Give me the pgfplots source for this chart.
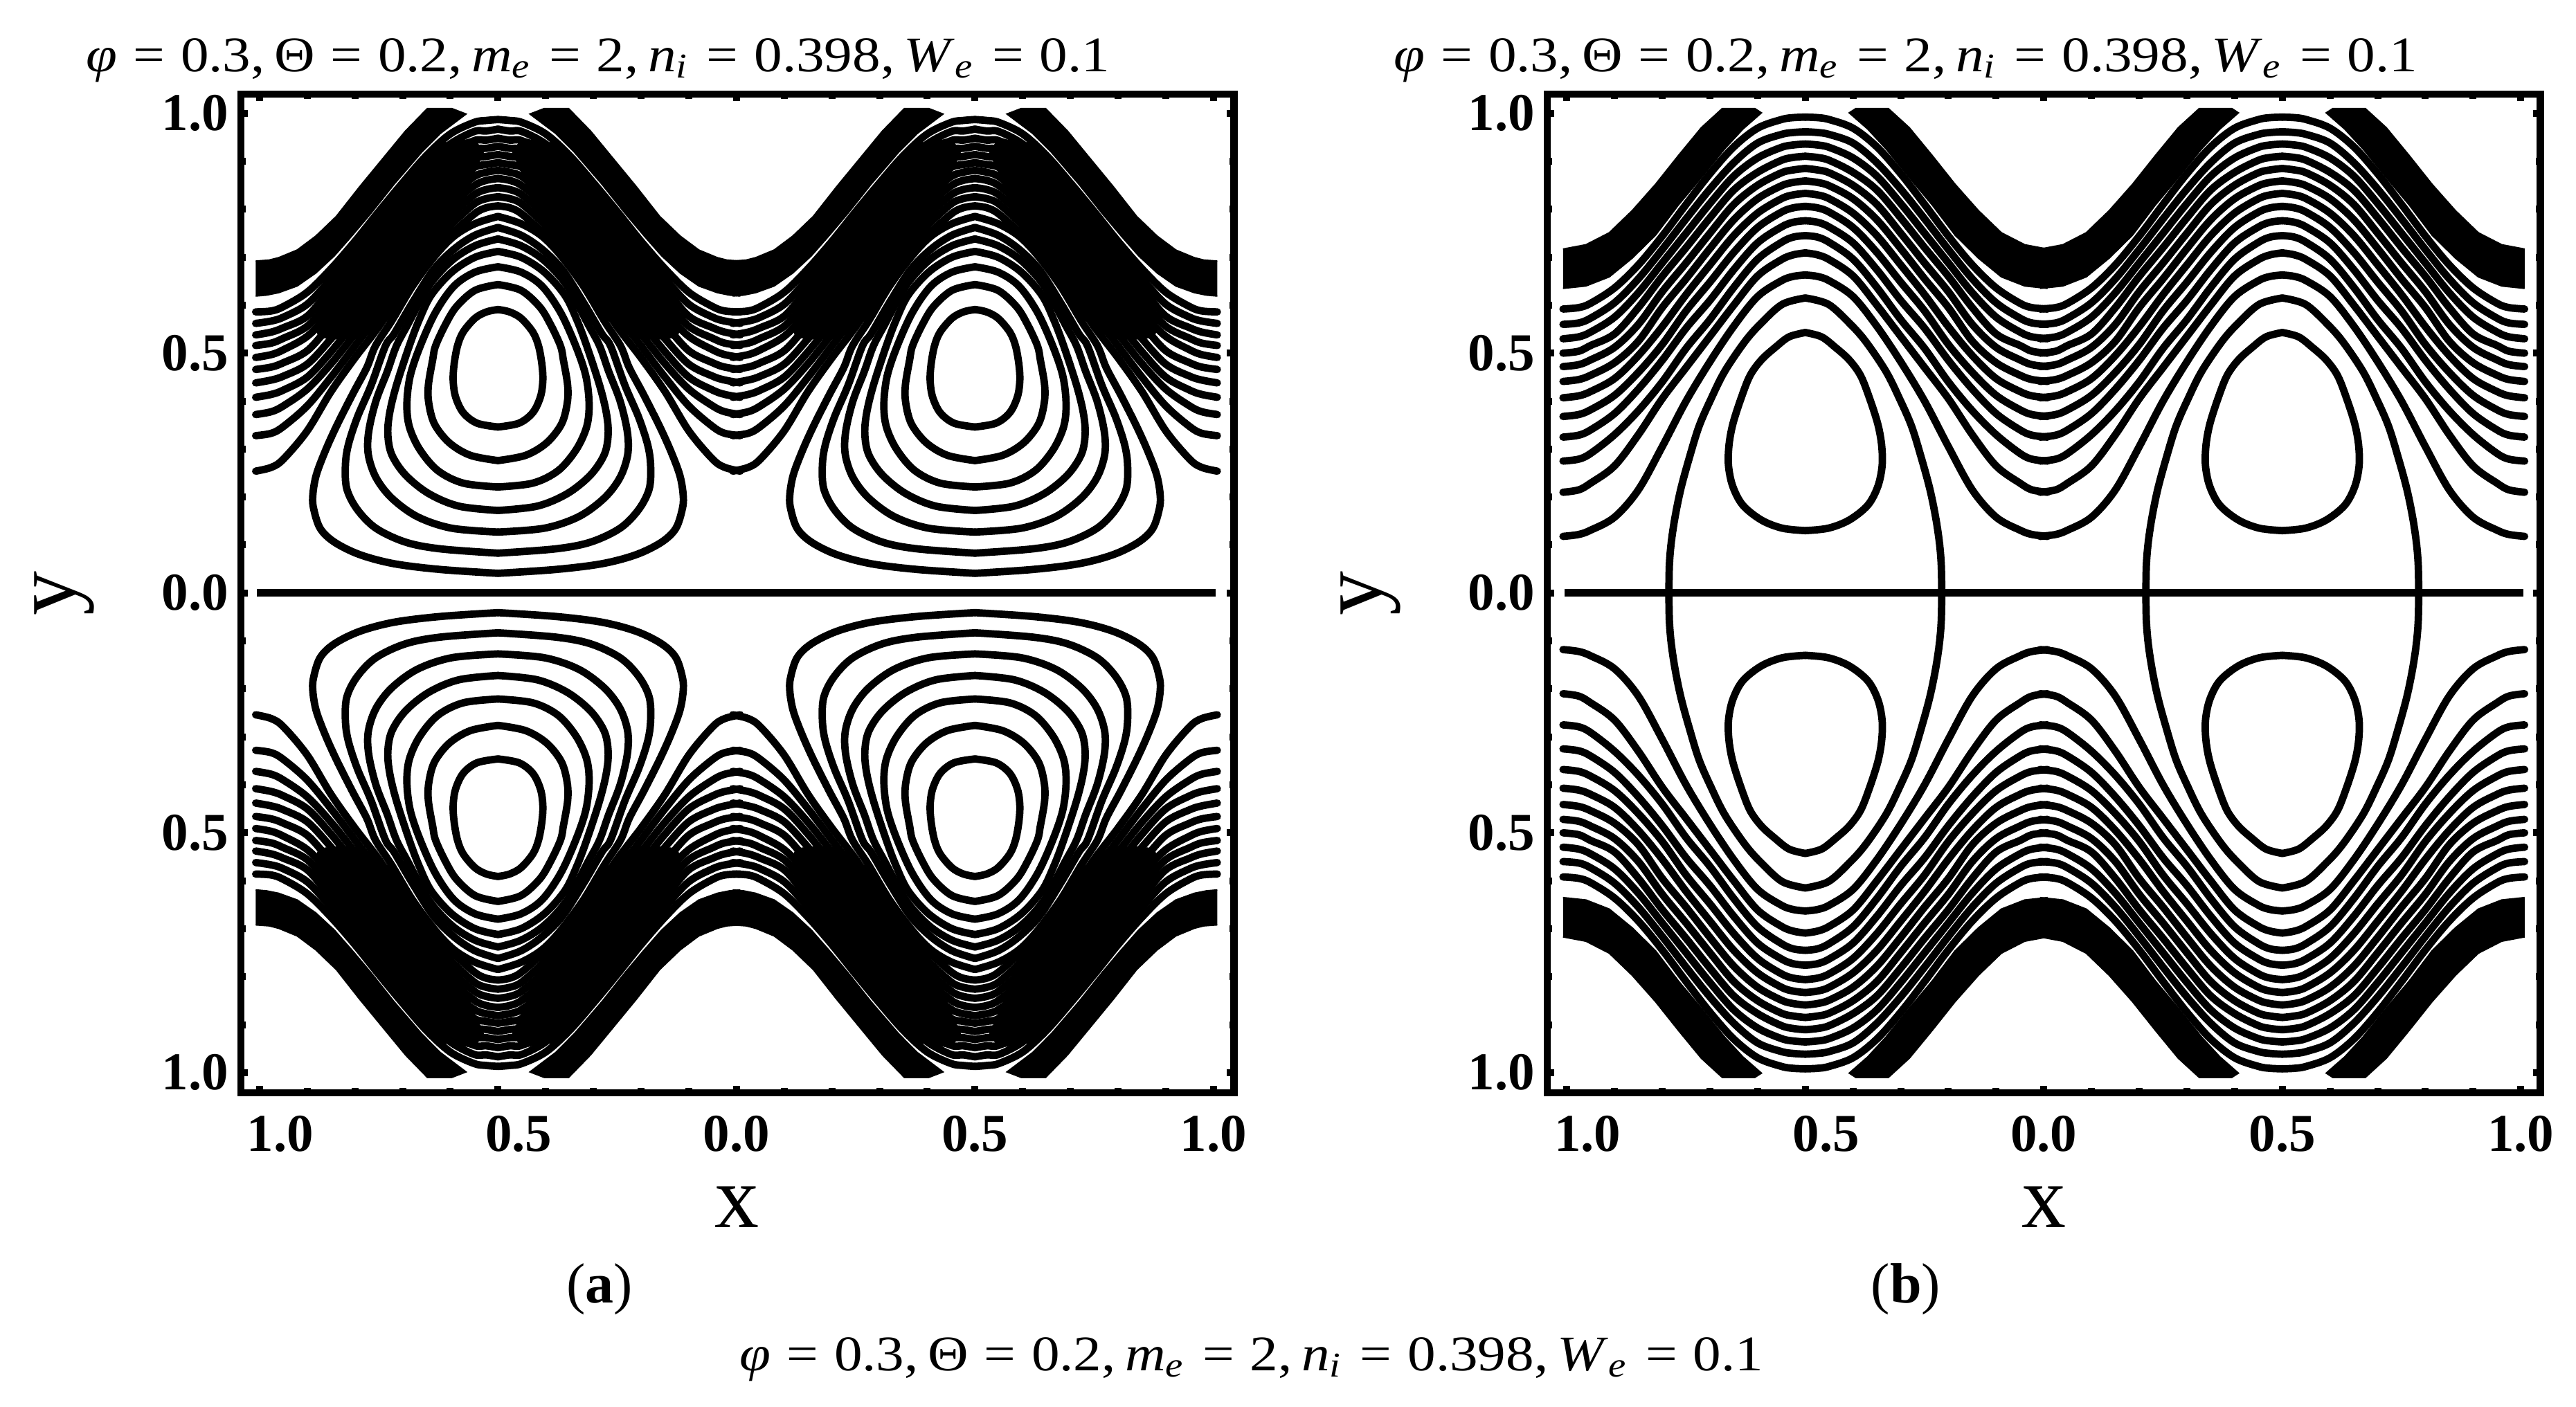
\documentclass[border=0pt]{standalone}
\usepackage{fontspec}
\setmainfont{Liberation Serif}
\usepackage{graphicx}
\usepackage{pgfplots}
\usepackage{pgfplotstable}
\pgfplotsset{compat=1.18}
% ---- panel (a): open contours, half period
\pgfplotstableread{
dx O1 O2 O3 O4 O5 O6 O7 O8 O9 O10 O11
.508 .254 .328 .372 .408 .438 .466 .491 .516 .538 .562 .586
.475 .262 .333 .378 .414 .444 .471 .497 .521 .544 .567 .588
.45 .279 .347 .390 .423 .452 .480 .507 .531 .553 .575 .597
.4 .338 .390 .425 .450 .477 .505 .535 .556 .577 .602 .627
.35 .420 .450 .478 .503 .530 .560 .585 .610 .635 .655 .676
.3 .490 .515 .540 .565 .590 .615 .640 .665 .690 .710 .733
.25 .555 .580 .604 .628 .652 .676 .700 .723 .747 .771 .795
.2 .630 .653 .675 .698 .720 .743 .765 .788 .810 .833 .855
.15 .690 .712 .734 .757 .779 .801 .823 .845 .868 .890 .912
.1 .745 .766 .787 .808 .830 .851 .872 .893 .915 .936 .957
.05 .790 .811 .830 .849 .868 .887 .905 .924 .943 .962 .981
.025 .803 .822 .841 .860 .877 .893 .910 .927 .944 .963 .985
0 .807 .826 .845 .864 .881 .897 .914 .931 .948 .967 .987
}\tAopen
% closed contours of (a)
\pgfplotstableread{
dx y
0 .591
.024 .586
.048 .573
.073 .544
.085 .515
.092 .477
.094 .443
.089 .409
.073 .376
.044 .354
0 .346
}\tCa
\pgfplotstableread{
dx y
0 .643
.048 .631
.087 .597
.11 .56
.131 .515
.137 .486
.146 .433
.145 .395
.133 .352
.102 .313
.058 .287
0 .276
}\tCb
\pgfplotstableread{
dx y
0 .680
.048 .669
.092 .640
.131 .585
.163 .515
.184 .453
.191 .395
.186 .347
.164 .299
.126 .255
.073 .229
0 .221
}\tCc
\pgfplotstableread{
dx y
0 .712
.048 .700
.097 .669
.14 .621
.165 .57
.186 .515
.213 .433
.227 .376
.231 .332
.223 .289
.194 .246
.145 .207
.082 .181
0 .172
}\tCd
\pgfplotstableread{
dx y
0 .738
.048 .724
.097 .693
.145 .64
.189 .56
.213 .515
.232 .462
.256 .400
.271 .337
.272 .289
.256 .241
.223 .198
.169 .159
.097 .135
0 .127
}\tCe
\pgfplotstableread{
dx y
0 .762
.048 .746
.092 .717
.135 .674
.179 .606
.218 .54
.236 .515
.266 .433
.295 .366
.314 .308
.320 .265
.317 .217
.295 .174
.256 .135
.194 .106
.121 .092
0 .083
}\tCf
\pgfplotstableread{
dx y
0 .785
.048 .770
.092 .744
.131 .704
.179 .64
.223 .567
.257 .515
.275 .47
.305 .414
.339 .347
.363 .294
.381 .246
.388 .207
.387 .178
.373 .135
.343 .106
.290 .080
.218 .061
.121 .049
0 .041
}\tCg
% solid band of (a)
\pgfplotstableread{
dx y
.508 .692
.48 .694
.46 .699
.421 .715
.382 .744
.339 .785
.29 .847
.242 .905
.194 .963
.148 1.01
.097 1.01
.067 .9985
.121 .958
.160 .919
.218 .852
.266 .792
.305 .746
.343 .703
.382 .667
.421 .640
.46 .626
.485 .621
.508 .619
}\tAband
% solid part of the packed contours of (a)
\pgfplotstableread{
dx y
.36 .645
.375 .607
.38 .58
.382 .556
.377 .539
.363 .532
.339 .53
.30 .53
.28 .534
.242 .561
.203 .592
.174 .64
.138 .688
.099 .753
.08 .789
.075 .811
.06 .84
.058 .859
.044 .89
.031 .919
.051 .948
.102 .936
.121 .943
.169 .89
.218 .833
.266 .775
.314 .717
.36 .67
}\tAdark
% ---- panel (b)
\pgfplotstableread{
dx P1 P2 P3 P4 P5 P6 P7 P8 P9 P10 P11 P12
.508 .118 .210 .275 .325 .368 .407 .441 .472 .500 .530 .560 .592
.475 .122 .215 .279 .329 .372 .411 .445 .476 .504 .534 .563 .595
.45 .131 .229 .291 .340 .382 .420 .454 .486 .516 .544 .573 .604
.4 .158 .265 .330 .374 .412 .447 .480 .512 .540 .575 .605 .636
.35 .215 .330 .380 .425 .460 .495 .525 .560 .595 .626 .655 .684
.3 .305 .405 .440 .485 .518 .555 .595 .628 .660 .688 .716 .744
.25 .400 .470 .510 .552 .588 .622 .655 .688 .720 .750 .780 .810
.2 .482 .535 .570 .610 .648 .684 .718 .750 .782 .812 .842 .874
.15 .556 .600 .637 .674 .710 .745 .778 .810 .840 .869 .897 .930
.1 .618 .661 .696 .730 .762 .792 .822 .850 .877 .907 .938 .969
.05 .651 .695 .731 .763 .794 .822 .849 .876 .902 .929 .956 .987
.025 .660 .705 .742 .773 .803 .830 .856 .882 .908 .934 .960 .991
0 .663 .709 .745 .776 .806 .833 .859 .885 .9105 .936 .9615 .992
}\tBopen
\pgfplotstableread{
dx y
0 .543
.034 .534
.063 .512
.092 .486
.116 .453
.135 .405
.152 .352
.160 .308
.161 .265
.152 .222
.131 .183
.092 .152
.048 .135
0 .130
}\tBa
\pgfplotstableread{
dx y
0 .615
.048 .602
.092 .563
.126 .525
.169 .462
.198 .404
.223 .347
.244 .279
.261 .217
.273 .159
.281 .106
.285 .058
.286 0
}\tBb
\pgfplotstableread{
dx y
.508 .717
.46 .726
.411 .751
.363 .797
.314 .852
.266 .912
.218 .97
.174 1.01
.106 1.01
.092 1.001
.131 .967
.169 .926
.218 .866
.266 .809
.314 .746
.363 .698
.411 .659
.46 .64
.508 .635
}\tBband
\tikzset{ln/.style={black,line width=1.07bp,smooth,tension=.55,no markers,line cap=round,line join=round},
 bd/.style={fill=black,draw=black,line width=.2bp,no markers}}
% one half-period contour, copied to all its symmetric positions
\newcommand\cv[3][ln]{%
 \addplot[#1] table[x expr={-0.5-\thisrow{dx}},y=#3]{#2};
 \addplot[#1] table[x expr={-0.5+\thisrow{dx}},y=#3]{#2};
 \addplot[#1] table[x expr={0.5-\thisrow{dx}},y=#3]{#2};
 \addplot[#1] table[x expr={0.5+\thisrow{dx}},y=#3]{#2};
 \addplot[#1] table[x expr={-0.5-\thisrow{dx}},y expr={-\thisrow{#3}}]{#2};
 \addplot[#1] table[x expr={-0.5+\thisrow{dx}},y expr={-\thisrow{#3}}]{#2};
 \addplot[#1] table[x expr={0.5-\thisrow{dx}},y expr={-\thisrow{#3}}]{#2};
 \addplot[#1] table[x expr={0.5+\thisrow{dx}},y expr={-\thisrow{#3}}]{#2};
}
\pgfplotsset{panel/.style={
 scale only axis,anchor=south west,width=143.45bp,height=144.3bp,
 ymin=-1.042,ymax=1.040,
 axis line style={line width=1.05bp},
 tick style={black,line width=1bp},
 major tick length=1.02bp,minor tick length=.68bp,
 tick align=inside,
 xtick={-1,-.5,0,.5,1},ytick={-1,-.5,0,.5,1},
 minor tick num=4,
 xticklabels={\hspace{6bp}1.0,\hspace{6bp}0.5,0.0,0.5,1.0},
 yticklabels={1.0,0.5,0.0,0.5,1.0},
 tick label style={font=\fontsize{7.7bp}{9bp}\bfseries\selectfont,inner sep=0pt},
 xticklabel style={anchor=base,yshift=-8.5bp},
 yticklabel style={anchor=east,xshift=-1.6bp},
 clip=false,
}}
\newcommand\eqs{\hspace{.28em}=\hspace{.28em}}
\newcommand\ttl{\scalebox{1.127}[1]{\fontsize{7.2bp}{9bp}\selectfont\textit{φ}\eqs 0.3,\,Θ\eqs 0.2,\,\textit{m}\textsubscript{\textit{e}}\eqs 2,\,\textit{n}\textsubscript{\textit{i}}\eqs 0.398,\,\textit{W}\textsubscript{\textit{e}}\eqs 0.1}}
\newcommand\lf{\fontsize{12.8bp}{14bp}\selectfont}
\begin{document}
\begin{tikzpicture}[x=1bp,y=1bp]
\useasboundingbox (0,0) rectangle (372.1,203.3);
\begin{axis}[panel,at={(34.8bp,45.4bp)},xmin=-1.039,xmax=1.043]
 \cv[bd]{\tAband}{y}
 \cv[bd]{\tAdark}{y}
 \cv{\tCa}{y}\cv{\tCb}{y}\cv{\tCc}{y}\cv{\tCd}{y}\cv{\tCe}{y}\cv{\tCf}{y}\cv{\tCg}{y}
 \cv{\tAopen}{O1}\cv{\tAopen}{O2}\cv{\tAopen}{O3}\cv{\tAopen}{O4}\cv{\tAopen}{O5}\cv{\tAopen}{O6}
 \cv{\tAopen}{O7}\cv{\tAopen}{O8}\cv{\tAopen}{O9}\cv{\tAopen}{O10}\cv{\tAopen}{O11}
 \addplot[black,line width=1.07bp,no markers] coordinates {(-1.005,0) (1.005,0)};
\end{axis}
\begin{axis}[panel,at={(223.5bp,45.4bp)},xmin=-1.041,xmax=1.041]
 \cv[bd]{\tBband}{y}
 \cv{\tBa}{y}\cv{\tBb}{y}
 \cv{\tBopen}{P1}\cv{\tBopen}{P2}\cv{\tBopen}{P3}\cv{\tBopen}{P4}\cv{\tBopen}{P5}\cv{\tBopen}{P6}
 \cv{\tBopen}{P7}\cv{\tBopen}{P8}\cv{\tBopen}{P9}\cv{\tBopen}{P10}\cv{\tBopen}{P11}\cv{\tBopen}{P12}
 \addplot[black,line width=1.07bp,no markers] coordinates {(-1.005,0) (1.005,0)};
\end{axis}
\node[anchor=base,inner sep=0pt] at (86.4,193) {\ttl};
\node[anchor=base,inner sep=0pt] at (275.3,193) {\ttl};
\node[anchor=base,inner sep=0pt] at (180.8,5.3) {\ttl};
\node[anchor=base,inner sep=0pt] at (86.6,15.1) {\fontsize{8.2bp}{10bp}\selectfont(\textbf{a})};
\node[anchor=base,inner sep=0pt] at (275.3,15.1) {\fontsize{8.2bp}{10bp}\selectfont(\textbf{b})};
\node[anchor=base,inner sep=0pt] at (106.4,26) {\lf x};
\node[anchor=base,inner sep=0pt] at (295.2,26) {\lf x};
\node[anchor=center,rotate=90,inner sep=0pt] at (9.3,117.6) {\lf y};
\node[anchor=center,rotate=90,inner sep=0pt] at (198,117.6) {\lf y};
\end{tikzpicture}
\end{document}
